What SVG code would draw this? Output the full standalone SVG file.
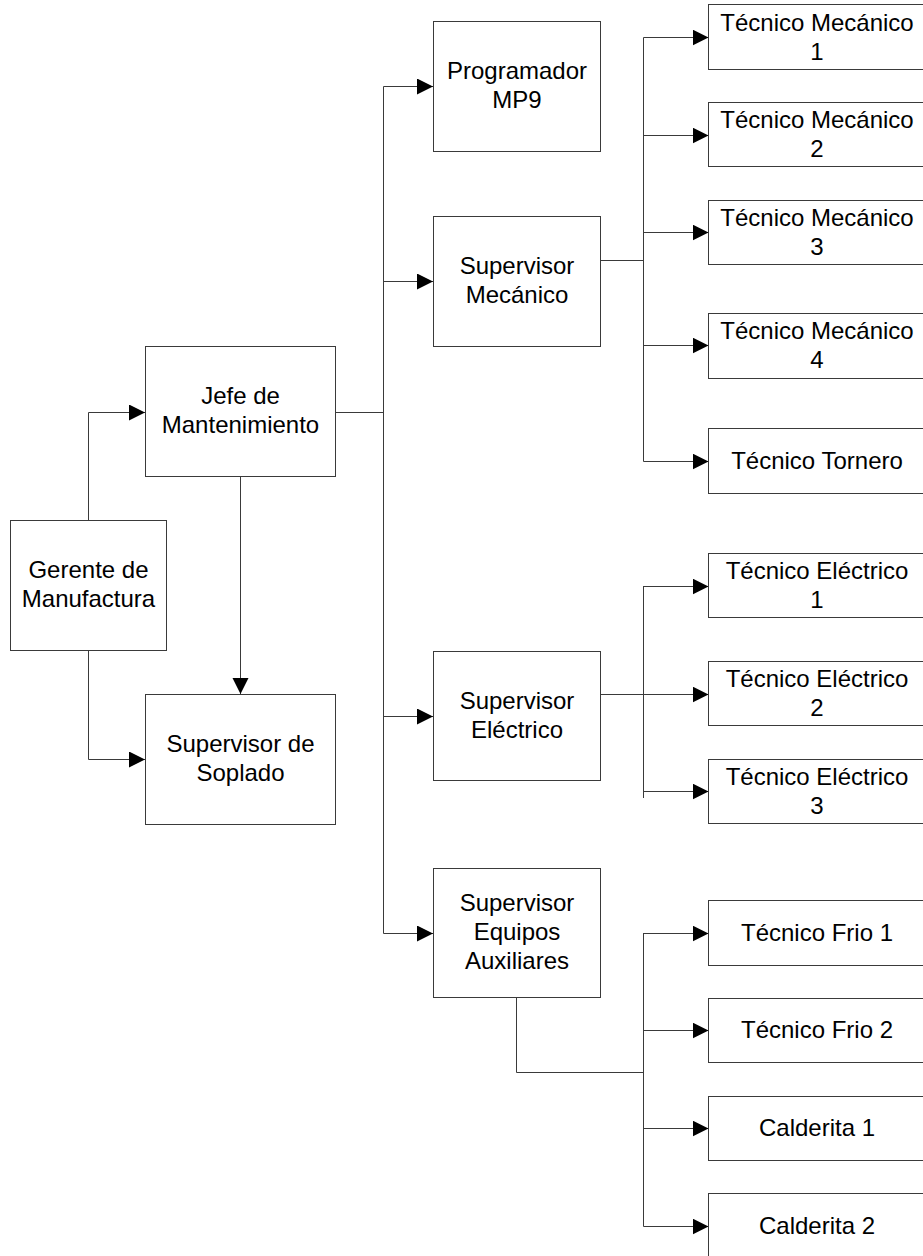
<svg xmlns="http://www.w3.org/2000/svg" width="923" height="1256" viewBox="0 0 923 1256">
  <style>
    .box { fill: #ffffff; stroke: #3a3a3a; stroke-width: 1; }
    .lbl { font-family: "Liberation Sans", Arial, sans-serif; font-size: 24px; fill: #000000; text-anchor: middle; }
    .wire { fill: none; stroke: #3a3a3a; stroke-width: 1; }
  </style>
  <defs>
    <marker id="arrow" markerUnits="userSpaceOnUse" markerWidth="17" markerHeight="17" refX="16" refY="8" orient="auto">
      <path d="M0,0 L16,8 L0,16 Z" fill="#000000"/>
    </marker>
  </defs>
  <rect width="923" height="1256" fill="#ffffff"/>

  <!-- connectors -->
  <g id="connectors" class="wire">
    <!-- Gerente -> Jefe / Soplado -->
    <path d="M88.5,520 V412.5 H145" marker-end="url(#arrow)"/>
    <path d="M88.5,651 V759.5 H145" marker-end="url(#arrow)"/>
    <!-- Jefe -> Soplado -->
    <path d="M240.5,477 V694" marker-end="url(#arrow)"/>
    <!-- Jefe trunk -->
    <path d="M336,412.5 H383.5"/>
    <path d="M383.5,86.5 V933.5"/>
    <path d="M383.5,86.5 H433" marker-end="url(#arrow)"/>
    <path d="M383.5,281.5 H433" marker-end="url(#arrow)"/>
    <path d="M383.5,716.5 H433" marker-end="url(#arrow)"/>
    <path d="M383.5,933.5 H433" marker-end="url(#arrow)"/>
    <!-- Supervisor Mecánico branch -->
    <path d="M600,260.5 H643.5"/>
    <path d="M643.5,37.5 V461.5"/>
    <path d="M643.5,37.5 H708.5" marker-end="url(#arrow)"/>
    <path d="M643.5,135.5 H708.5" marker-end="url(#arrow)"/>
    <path d="M643.5,232.5 H708.5" marker-end="url(#arrow)"/>
    <path d="M643.5,345.5 H708.5" marker-end="url(#arrow)"/>
    <path d="M643.5,461.5 H708.5" marker-end="url(#arrow)"/>
    <!-- Supervisor Eléctrico branch -->
    <path d="M643.5,586 V798"/>
    <path d="M643.5,586.5 H708.5" marker-end="url(#arrow)"/>
    <path d="M600,694.5 H708.5" marker-end="url(#arrow)"/>
    <path d="M643.5,791.5 H708.5" marker-end="url(#arrow)"/>
    <!-- Supervisor Equipos Auxiliares branch -->
    <path d="M516.5,998 V1072.5 H643.5"/>
    <path d="M643.5,933 V1226.5"/>
    <path d="M643.5,933.5 H708.5" marker-end="url(#arrow)"/>
    <path d="M643.5,1030.5 H708.5" marker-end="url(#arrow)"/>
    <path d="M643.5,1128.5 H708.5" marker-end="url(#arrow)"/>
    <path d="M643.5,1226.5 H708.5" marker-end="url(#arrow)"/>
  </g>

  <!-- nodes -->
  <g id="gerente">
    <rect class="box" x="10.5" y="520.5" width="156" height="130"/>
    <text class="lbl" x="88.5" y="578"><tspan x="88.5">Gerente de</tspan><tspan x="88.5" dy="29">Manufactura</tspan></text>
  </g>
  <g id="jefe">
    <rect class="box" x="145.5" y="346.5" width="190" height="130"/>
    <text class="lbl" x="240.5" y="404"><tspan x="240.5">Jefe de</tspan><tspan x="240.5" dy="29">Mantenimiento</tspan></text>
  </g>
  <g id="soplado">
    <rect class="box" x="145.5" y="694.5" width="190" height="130"/>
    <text class="lbl" x="240.5" y="752"><tspan x="240.5">Supervisor de</tspan><tspan x="240.5" dy="29">Soplado</tspan></text>
  </g>
  <g id="programador">
    <rect class="box" x="433.5" y="21.5" width="167" height="130"/>
    <text class="lbl" x="517" y="79"><tspan x="517">Programador</tspan><tspan x="517" dy="29">MP9</tspan></text>
  </g>
  <g id="sup-mecanico">
    <rect class="box" x="433.5" y="216.5" width="167" height="130"/>
    <text class="lbl" x="517" y="274"><tspan x="517">Supervisor</tspan><tspan x="517" dy="29">Mecánico</tspan></text>
  </g>
  <g id="sup-electrico">
    <rect class="box" x="433.5" y="651.5" width="167" height="129"/>
    <text class="lbl" x="517" y="709"><tspan x="517">Supervisor</tspan><tspan x="517" dy="29">Eléctrico</tspan></text>
  </g>
  <g id="sup-auxiliares">
    <rect class="box" x="433.5" y="868.5" width="167" height="129"/>
    <text class="lbl" x="517" y="911"><tspan x="517">Supervisor</tspan><tspan x="517" dy="29">Equipos</tspan><tspan x="517" dy="29">Auxiliares</tspan></text>
  </g>

  <g id="tec-mecanico-1">
    <rect class="box" x="708.5" y="4.5" width="217" height="65"/>
    <text class="lbl" x="817" y="31"><tspan x="817">Técnico Mecánico</tspan><tspan x="817" dy="29">1</tspan></text>
  </g>
  <g id="tec-mecanico-2">
    <rect class="box" x="708.5" y="102.5" width="217" height="64"/>
    <text class="lbl" x="817" y="128"><tspan x="817">Técnico Mecánico</tspan><tspan x="817" dy="29">2</tspan></text>
  </g>
  <g id="tec-mecanico-3">
    <rect class="box" x="708.5" y="200.5" width="217" height="64"/>
    <text class="lbl" x="817" y="226"><tspan x="817">Técnico Mecánico</tspan><tspan x="817" dy="29">3</tspan></text>
  </g>
  <g id="tec-mecanico-4">
    <rect class="box" x="708.5" y="313.5" width="217" height="65"/>
    <text class="lbl" x="817" y="339"><tspan x="817">Técnico Mecánico</tspan><tspan x="817" dy="29">4</tspan></text>
  </g>
  <g id="tec-tornero">
    <rect class="box" x="708.5" y="428.5" width="217" height="65"/>
    <text class="lbl" x="817" y="469">Técnico Tornero</text>
  </g>
  <g id="tec-electrico-1">
    <rect class="box" x="708.5" y="553.5" width="217" height="64"/>
    <text class="lbl" x="817" y="579"><tspan x="817">Técnico Eléctrico</tspan><tspan x="817" dy="29">1</tspan></text>
  </g>
  <g id="tec-electrico-2">
    <rect class="box" x="708.5" y="661.5" width="217" height="64"/>
    <text class="lbl" x="817" y="687"><tspan x="817">Técnico Eléctrico</tspan><tspan x="817" dy="29">2</tspan></text>
  </g>
  <g id="tec-electrico-3">
    <rect class="box" x="708.5" y="759.5" width="217" height="64"/>
    <text class="lbl" x="817" y="785"><tspan x="817">Técnico Eléctrico</tspan><tspan x="817" dy="29">3</tspan></text>
  </g>
  <g id="tec-frio-1">
    <rect class="box" x="708.5" y="900.5" width="217" height="65"/>
    <text class="lbl" x="817" y="941">Técnico Frio 1</text>
  </g>
  <g id="tec-frio-2">
    <rect class="box" x="708.5" y="998.5" width="217" height="64"/>
    <text class="lbl" x="817" y="1038">Técnico Frio 2</text>
  </g>
  <g id="calderita-1">
    <rect class="box" x="708.5" y="1096.5" width="217" height="64"/>
    <text class="lbl" x="817" y="1136">Calderita 1</text>
  </g>
  <g id="calderita-2">
    <rect class="box" x="708.5" y="1193.5" width="217" height="65"/>
    <text class="lbl" x="817" y="1234">Calderita 2</text>
  </g>
</svg>
